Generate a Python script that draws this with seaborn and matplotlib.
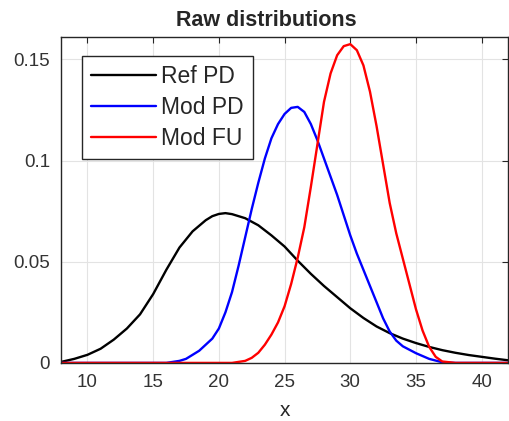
import matplotlib
matplotlib.use("Agg")
import matplotlib.pyplot as plt
import seaborn as sns
from matplotlib.ticker import FuncFormatter

# values
ref_x = [8, 9, 10, 11, 12, 13, 14, 15, 16, 17, 18, 19, 19.5, 20, 20.5, 21, 22, 23, 24, 25,
         26, 27, 28, 29, 30, 31, 32, 33, 34, 35, 36, 37, 38, 39, 40, 41, 42]
ref_pd = [0.0005, 0.002, 0.004, 0.007, 0.0115, 0.017, 0.024, 0.034, 0.046, 0.057,
          0.065, 0.0705, 0.0725, 0.0736, 0.074, 0.0735, 0.0715, 0.068, 0.063, 0.0575,
          0.0505, 0.044, 0.038, 0.0325, 0.027, 0.0222, 0.018, 0.0147, 0.012, 0.0098,
          0.0079, 0.0063, 0.005, 0.0039, 0.003, 0.0021, 0.0013]

mod_pd_x = [8, 12, 16, 17, 17.5, 18, 18.5, 19, 19.5, 20, 20.5, 21, 21.5, 22, 22.5, 23,
            23.5, 24, 24.5, 25, 25.5, 26, 26.5, 27, 27.5, 28, 28.5, 29, 29.5, 30, 30.5,
            31, 31.5, 32, 32.5, 33, 33.5, 34, 35, 36, 37, 38, 42]
mod_pd = [0, 0, 0, 0.001, 0.002, 0.004, 0.006, 0.009, 0.012, 0.017, 0.025, 0.035,
          0.048, 0.062, 0.076, 0.089, 0.101, 0.111, 0.118, 0.123, 0.126, 0.1265, 0.124,
          0.118, 0.11, 0.101, 0.092, 0.083, 0.073, 0.063, 0.054, 0.046, 0.038, 0.03,
          0.022, 0.0155, 0.011, 0.0082, 0.0048, 0.002, 0.0003, 0, 0]

mod_fu_x = [8, 15, 21, 22, 22.5, 23, 23.5, 24, 24.5, 25, 25.5, 26, 26.5, 27, 27.5,
            28, 28.5, 29, 29.5, 30, 30.5, 31, 31.5, 32, 32.5, 33, 33.5, 34, 34.5,
            35, 35.5, 36, 36.5, 37, 38, 42]
mod_fu = [0, 0, 0, 0.001, 0.0025, 0.005, 0.009, 0.014, 0.02, 0.028, 0.039, 0.052,
          0.067, 0.087, 0.108, 0.129, 0.143, 0.152, 0.1565, 0.1575, 0.1545, 0.147,
          0.134, 0.117, 0.098, 0.079, 0.064, 0.0515, 0.039, 0.0265, 0.016, 0.008,
          0.003, 0.0007, 0, 0]

sns.set_style("whitegrid")
plt.rcParams['font.family'] = ['Liberation Sans', 'DejaVu Sans']

fig = plt.figure(figsize=(5.1, 4.21), dpi=100)
ax = fig.add_axes([0.12, 0.138, 0.876, 0.774])

sns.lineplot(x=ref_x, y=ref_pd, color='black', linewidth=1.7, label='Ref PD', ax=ax)
sns.lineplot(x=mod_pd_x, y=mod_pd, color='#0000ff', linewidth=1.7, label='Mod PD', ax=ax)
sns.lineplot(x=mod_fu_x, y=mod_fu, color='#ff0000', linewidth=1.7, label='Mod FU', ax=ax)

ax.set_xlim(8, 42)
ax.set_ylim(0, 0.161)
ax.set_xticks([10, 15, 20, 25, 30, 35, 40])
ax.set_yticks([0, 0.05, 0.1, 0.15])
ax.yaxis.set_major_formatter(FuncFormatter(lambda v, p: '%g' % v))
ax.grid(True, color='#e3e3e3', linewidth=0.8)
for s in ax.spines.values():
    s.set_color('#262626')
    s.set_linewidth(1.0)
ax.tick_params(direction='in', length=4, width=0.8, top=True, right=True,
               labelsize=13.5, colors='#262626', labelcolor='#333333', pad=8)

ax.set_title('Raw distributions', fontsize=15.5, fontweight='bold', x=0.459, pad=8)
ax.set_xlabel('x', fontsize=15, labelpad=7)
ax.set_ylabel('')

leg = ax.legend(loc='upper left', bbox_to_anchor=(0.047, 0.942), fontsize=16.5,
                fancybox=False, framealpha=1, edgecolor='#262626',
                handlelength=2.8, handletextpad=0.25, labelspacing=0.35,
                borderpad=0.4, borderaxespad=0)
leg.get_frame().set_linewidth(1.0)

fig.savefig('out.png', dpi=100)
